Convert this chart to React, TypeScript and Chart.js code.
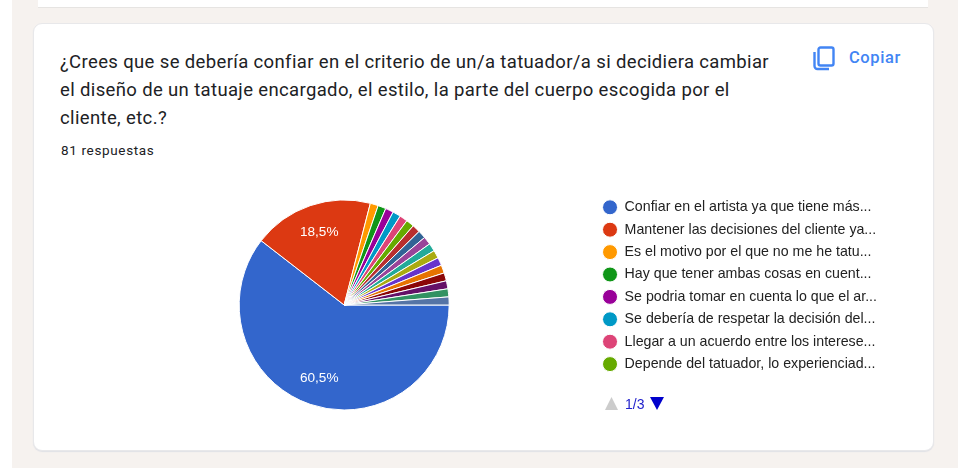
import React, { useEffect, useRef } from "react";
import { Chart, registerables } from "chart.js";

Chart.register(...registerables);

const titleLines = [
  "¿Crees que se debería confiar en el criterio de un/a tatuador/a si decidiera cambiar",
  "el diseño de un tatuaje encargado, el estilo, la parte del cuerpo escogida por el",
  "cliente, etc.?",
];
const responsesLabel = "81 respuestas";
const visibleCategories = [
  "Confiar en el artista ya que tiene más...",
  "Mantener las decisiones del cliente ya...",
  "Es el motivo por el que no me he tatu...",
  "Hay que tener ambas cosas en cuent...",
  "Se podria tomar en cuenta lo que el ar...",
  "Se debería de respetar la decisión del...",
  "Llegar a un acuerdo entre los interese...",
  "Depende del tatuador, lo experienciad...",
];
// The other answers live on legend pages 2 and 3, which the picture does not show.
const hiddenCategories = ["(9)", "(10)", "(11)", "(12)", "(13)", "(14)", "(15)", "(16)", "(17)", "(18)", "(19)"];
const responseCounts = [49, 15, 1, 1, 1, 1, 1, 1, 1, 1, 1, 1, 1, 1, 1, 1, 1, 1, 1];
const sliceColors = [
  "#3366cc", "#dc3912", "#ff9900", "#109618", "#990099", "#0099c6", "#dd4477", "#66aa00",
  "#b82e2e", "#316395", "#994499", "#22aa99", "#aaaa11", "#6633cc", "#e67300", "#8b0707",
  "#651067", "#329262", "#5574a6",
];
const shownPercentLabels = ["60,5%", "18,5%"];

const percentLabels = {
  id: "percentLabels",
  afterDatasetsDraw(chart: any) {
    const { ctx } = chart;
    const arcs = chart.getDatasetMeta(0).data;
    ctx.save();
    ctx.fillStyle = "#ffffff";
    ctx.font = "13.6px 'Liberation Sans', Arial, sans-serif";
    ctx.textAlign = "center";
    ctx.textBaseline = "middle";
    shownPercentLabels.forEach((text, i) => {
      const arc = arcs[i];
      const mid = (arc.startAngle + arc.endAngle) / 2;
      const r = arc.outerRadius * 0.733;
      ctx.fillText(text, arc.x + Math.cos(mid) * r, arc.y + Math.sin(mid) * r);
    });
    ctx.restore();
  },
};

export default function App() {
  const ref = useRef<HTMLCanvasElement>(null);
  useEffect(() => {
    const chart = new Chart(ref.current!, {
      type: "pie",
      data: {
        labels: [...visibleCategories, ...hiddenCategories],
        datasets: [
          {
            data: responseCounts,
            backgroundColor: sliceColors,
            borderColor: "#ffffff",
            borderWidth: 1,
            radius: 105,
          },
        ],
      },
      options: {
        responsive: false,
        animation: false,
        rotation: 90,
        layout: { padding: 0 },
        plugins: {
          tooltip: { enabled: false },
          legend: {
            position: "right",
            align: "start",
            labels: {
              usePointStyle: true,
              pointStyle: "circle",
              pointStyleWidth: 15,
              boxHeight: 10.6,
              color: "#222222",
              padding: 8.2,
              font: { family: "'Liberation Sans', Arial, sans-serif", size: 14.2 },
              filter: (item: any) => item.index < visibleCategories.length,
            },
          },
        },
      },
      plugins: [percentLabels],
    });
    return () => chart.destroy();
  }, []);

  return (
    <div style={{ position: "absolute", left: 0, top: 0, width: 958, height: 468, background: "#fff", overflow: "hidden" }}>
      <div style={{ position: "absolute", left: 12, top: 0, width: 946, height: 468, background: "#f6f2ef" }} />
      <div style={{ position: "absolute", left: 38, top: 0, width: 890, height: 7, background: "#fff", borderBottom: "1px solid #e6e4e2" }} />
      <div
        style={{
          position: "absolute", left: 33, top: 23, width: 899, height: 426, background: "#fff",
          border: "1px solid #e8e8ea", borderRadius: 9, boxShadow: "0 1px 1px #e0e1e6",
        }}
      />
      <div
        style={{
          position: "absolute", left: 60, top: 48, width: 740, fontFamily: "Roboto, sans-serif",
          fontSize: 18.5, letterSpacing: 0.36, lineHeight: "28px", color: "#202124", whiteSpace: "nowrap",
        }}
      >
        {titleLines.map((l) => (
          <div key={l}>{l}</div>
        ))}
      </div>
      <div
        style={{
          position: "absolute", left: 61, top: 142, fontFamily: "Roboto, sans-serif",
          fontSize: 13.5, lineHeight: "16px", color: "#202124", letterSpacing: 0.65,
        }}
      >
        {responsesLabel}
      </div>
      <svg style={{ position: "absolute", left: 811, top: 44 }} width={26} height={28} viewBox="0 0 26 28">
        <rect x={7.5} y={3.5} width={15} height={18} rx={2} fill="none" stroke="#4285f4" strokeWidth={2.4} />
        <path d="M3.5 8 V22 a3 3 0 0 0 3 3 H18" fill="none" stroke="#4285f4" strokeWidth={2.4} />
      </svg>
      <div
        style={{
          position: "absolute", left: 849, top: 49, fontFamily: "Roboto, sans-serif", fontWeight: 500,
          fontSize: 16.5, lineHeight: "18px", color: "#4285f4", letterSpacing: 0.6,
        }}
      >
        Copiar
      </div>
      <canvas ref={ref} width={793} height={226} style={{ position: "absolute", left: 94, top: 192 }} />
      <svg style={{ position: "absolute", left: 604, top: 396 }} width={62} height={16} viewBox="0 0 62 16">
        <path d="M1 14 L7.5 1 L14 14 Z" fill="#cccccc" />
        <path d="M46 1 L60 1 L53 14 Z" fill="#0000cc" />
      </svg>
      <div
        style={{
          position: "absolute", left: 625, top: 396, fontFamily: "'Liberation Sans', Arial, sans-serif",
          fontSize: 14, lineHeight: "16px", color: "#2222cc",
        }}
      >
        1/3
      </div>
    </div>
  );
}
